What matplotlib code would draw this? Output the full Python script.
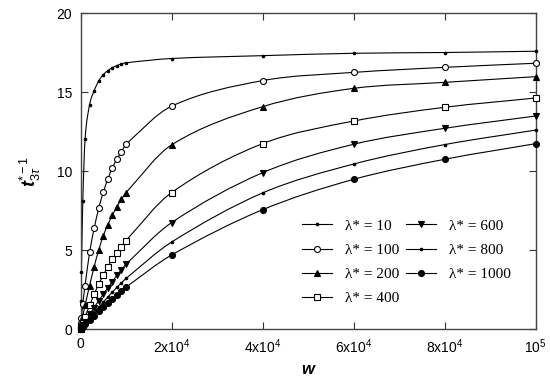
import matplotlib
matplotlib.use("Agg")
import matplotlib.pyplot as plt
import numpy as np
from matplotlib.path import Path
from matplotlib.patches import PathPatch
from matplotlib.lines import Line2D

plt.rcParams['font.family'] = ['Liberation Sans', 'DejaVu Sans']
plt.rcParams['mathtext.fontset'] = 'custom'
plt.rcParams['mathtext.rm'] = 'Liberation Sans'
plt.rcParams['mathtext.it'] = 'Liberation Sans:italic'
plt.rcParams['mathtext.bf'] = 'Liberation Sans:bold:italic'

# ---------------- data ----------------
w = [0, 100, 200, 500, 1000, 2000, 3000, 4000, 5000, 6000, 7000, 8000, 9000,
     10000, 20000, 40000, 60000, 80000, 100000]

lam_labels = ["10", "100", "200", "400", "600", "800", "1000"]

t_lam10 = [0, 1.8, 3.6, 8.1, 12.0, 14.2, 15.08, 15.7, 16.1, 16.35, 16.54, 16.67,
           16.78, 16.85, 17.12, 17.3, 17.45, 17.5, 17.58]
t_lam100 = [0, 0.35, 0.7, 1.6, 2.75, 4.85, 6.37, 7.64, 8.65, 9.49, 10.2, 10.76,
            11.23, 11.69, 14.1, 15.72, 16.24, 16.56, 16.82]
t_lam200 = [0, 0.17, 0.35, 0.8, 1.5, 2.75, 3.95, 5.0, 5.9, 6.6, 7.2, 7.75,
            8.2, 8.63, 11.65, 14.07, 15.23, 15.61, 15.97]
t_lam400 = [0, 0.08, 0.16, 0.4, 0.78, 1.5, 2.2, 2.85, 3.4, 3.95, 4.4, 4.8,
            5.2, 5.6, 8.63, 11.73, 13.16, 14.03, 14.62]
t_lam600 = [0, 0.05, 0.1, 0.24, 0.47, 0.92, 1.36, 1.8, 2.2, 2.6, 3.0, 3.4,
            3.75, 4.1, 6.73, 9.89, 11.69, 12.7, 13.48]
t_lam800 = [0, 0.04, 0.07, 0.18, 0.36, 0.7, 1.04, 1.38, 1.7, 2.02, 2.33, 2.63,
            2.92, 3.2, 5.5, 8.61, 10.44, 11.67, 12.59]
t_lam1000 = [0, 0.03, 0.06, 0.15, 0.29, 0.57, 0.85, 1.12, 1.39, 1.65, 1.91, 2.16,
             2.41, 2.65, 4.68, 7.55, 9.47, 10.74, 11.73]

xtick_vals = [0, 20000, 40000, 60000, 80000, 100000]
xtick_labels = ["0", "2x10$^{4}$", "4x10$^{4}$", "6x10$^{4}$", "8x10$^{4}$", "10$^{5}$"]
ytick_vals = [0, 5, 10, 15, 20]

series = [t_lam10, t_lam100, t_lam200, t_lam400, t_lam600, t_lam800, t_lam1000]
styles = [
    dict(marker='o', ms=1.8, mfc='black'),
    dict(marker='o', ms=4.3, mfc='white'),
    dict(marker='^', ms=4.6, mfc='black'),
    dict(marker='s', ms=4.0, mfc='white'),
    dict(marker='v', ms=4.6, mfc='black'),
    dict(marker='o', ms=1.8, mfc='black'),
    dict(marker='o', ms=4.3, mfc='black'),
]


def smooth_path(x, y):
    x = np.asarray(x, float)
    y = np.asarray(y, float)
    n = len(x)
    m = np.zeros(n)
    for i in range(n):
        if i == 0:
            m[i] = (y[1] - y[0]) / (x[1] - x[0])
        elif i == n - 1:
            m[i] = (y[-1] - y[-2]) / (x[-1] - x[-2])
        else:
            m[i] = (y[i + 1] - y[i - 1]) / (x[i + 1] - x[i - 1])
    verts = [(x[0], y[0])]
    codes = [Path.MOVETO]
    for i in range(n - 1):
        h = x[i + 1] - x[i]
        verts += [(x[i] + h / 3, y[i] + m[i] * h / 3),
                  (x[i + 1] - h / 3, y[i + 1] - m[i + 1] * h / 3),
                  (x[i + 1], y[i + 1])]
        codes += [Path.CURVE4] * 3
    return Path(verts, codes)


fig = plt.figure(figsize=(5.5, 3.78), dpi=100)
ax = fig.add_axes([0.1464, 0.1296, 0.8273, 0.836])

handles = []
for ys, st, lab in zip(series, styles, lam_labels):
    p = PathPatch(smooth_path(w, ys), fill=False, lw=0.8, edgecolor='black',
                  transform=ax.transData, zorder=2)
    ax.add_patch(p)
    ax.plot(w, ys, ls='none', marker=st['marker'], ms=st['ms'],
            mfc=st['mfc'], mec='black', mew=0.8, zorder=3, clip_on=False)
    handles.append(Line2D([], [], color='black', lw=0.8, marker=st['marker'],
                          ms=st['ms'], mfc=st['mfc'], mec='black', mew=0.8,
                          label="\u03bb* = " + lab))

ax.set_xlim(0, 100000)
ax.set_ylim(0, 20)
ax.set_xticks(xtick_vals)
ax.set_xticklabels(xtick_labels)
ax.set_yticks(ytick_vals)
ax.tick_params(direction='in', top=True, right=True, length=5, width=0.8,
               labelsize=10, colors='#333333', labelcolor='black', pad=6)
for s in ax.spines.values():
    s.set_color('#444444')
    s.set_linewidth(1.0)

ax.set_xlabel("w", fontsize=12, fontweight='bold', style='italic', labelpad=4)
ax.set_ylabel(r"$\mathbf{t}_{3\tau}^{*-1}$", fontsize=13, labelpad=10)

leg = ax.legend(handles=handles, ncol=2, loc='lower right',
                bbox_to_anchor=(0.975, 0.031), frameon=False,
                prop={'family': ['Liberation Serif', 'DejaVu Serif'], 'size': 11},
                handlelength=2.0, handletextpad=0.8, columnspacing=0.45,
                labelspacing=0.69)

fig.savefig("out.png", dpi=100)
